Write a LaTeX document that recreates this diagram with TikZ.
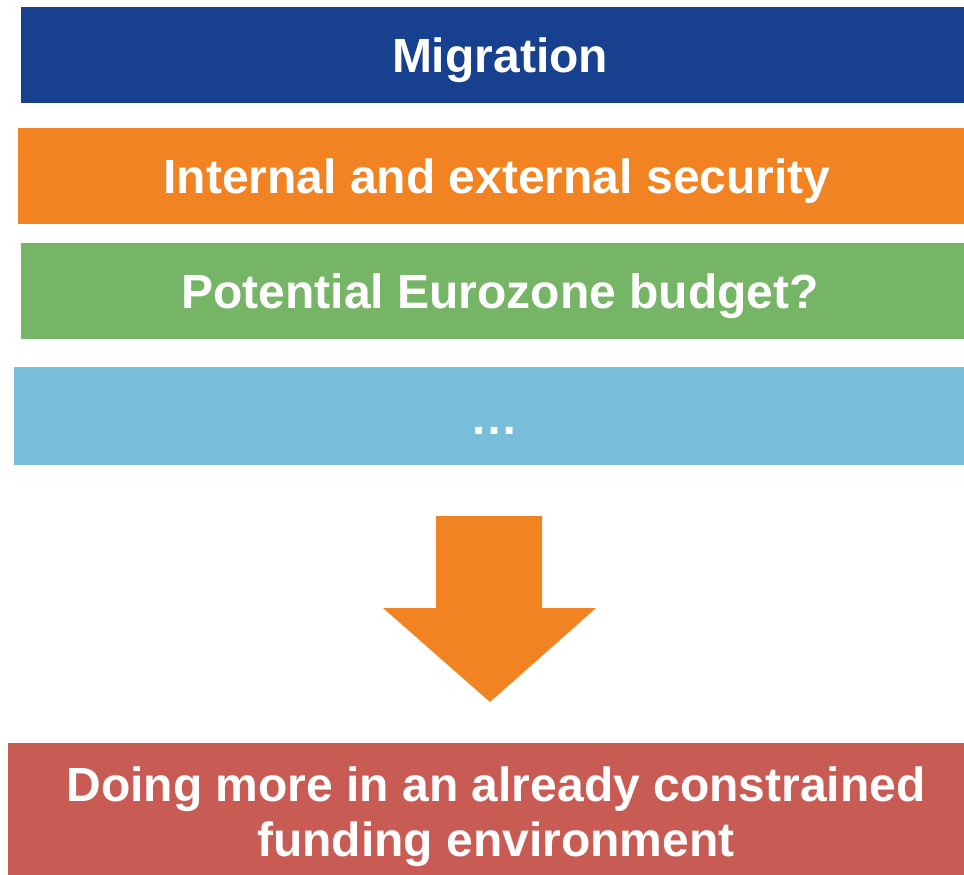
\documentclass[tikz,border=0pt]{standalone}
\usepackage{fontspec}
\setmainfont{Liberation Sans}
\definecolor{bandblue}{HTML}{17408F}
\definecolor{bandorange}{HTML}{F28322}
\definecolor{bandgreen}{HTML}{77B566}
\definecolor{bandsky}{HTML}{78BDDA}
\definecolor{bandred}{HTML}{C85C55}
\begin{document}
\begin{tikzpicture}[x=1pt,y=-1pt,
  bandtext/.style={text=white, inner sep=0pt, anchor=base,
    font=\fontsize{48}{55}\selectfont\bfseries, align=center}]
\useasboundingbox (0,0) rectangle (964,875);
% coloured bands
\fill[bandblue]   (21,7)   rectangle (964,103);
\fill[bandorange] (18,128) rectangle (964,224);
\fill[bandgreen]  (21,243) rectangle (964,339);
\fill[bandsky]    (14,367) rectangle (964,465);
\fill[bandred]    (8,743)  rectangle (964,875);
% band captions (placed by baseline; the two-line caption by its last line)
\node[bandtext] (mig) at (500,73)  {Migration};
\node[bandtext] (sec) at (497,193) {Internal and external security};
\node[bandtext] (ezb) at (500,308) {Potential Eurozone budget?};
\node[bandtext] (etc) at (494.5,434) {\dots};
\node[bandtext] (res) at (496,856) {Doing more in an already constrained\\funding environment};
% downward block arrow
\fill[bandorange] (436,516) -- (542,516) -- (542,608) -- (596,608) -- (490,702)
  -- (383,608) -- (436,608) -- cycle;
\end{tikzpicture}
\end{document}
